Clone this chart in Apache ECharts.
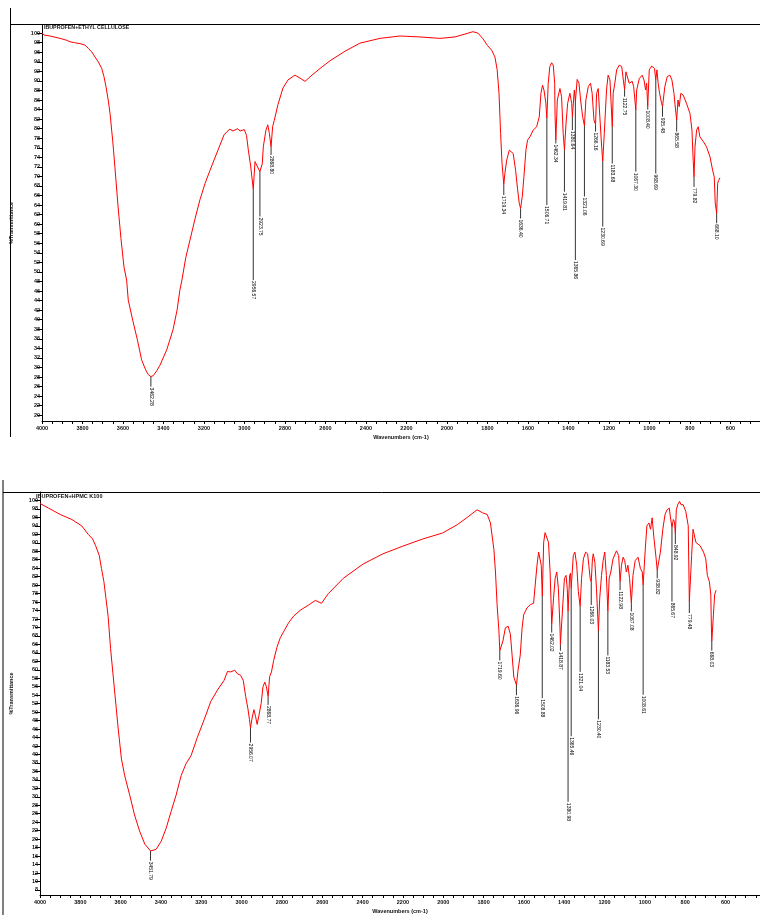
<!DOCTYPE html>
<html lang="en">
<head>
<meta charset="UTF-8">
<title>IR spectra</title>
<script src="https://cdn.jsdelivr.net/npm/echarts/dist/echarts.min.js"></script>
<style>
  html, body { margin: 0; padding: 0; background: #fff; }
  #chart { width: 760px; height: 915px; }
</style>
</head>
<body>
<div id="chart"></div>
<script>
// ---- data: ibuprofen + ethyl cellulose (top) ----
var topWn = [4000, 3990, 3960, 3911, 3878, 3862, 3840, 3812, 3788, 3771, 3755, 3738, 3722, 3705, 3694, 3684, 3673, 3664, 3656, 3651,
  3640, 3625, 3610, 3595, 3582, 3574, 3552, 3529, 3508, 3488, 3475, 3462.28, 3450, 3432, 3417, 3384, 3353, 3333, 3319, 3309,
  3290, 3269, 3245, 3220, 3195, 3170, 3131, 3101, 3086, 3072, 3057, 3034, 3022, 3001, 2990, 2981, 2969, 2956.57, 2948, 2940,
  2923.75, 2912, 2907, 2894, 2885, 2877, 2868.80, 2861, 2853, 2835, 2810, 2785, 2751, 2726, 2701, 2667, 2627, 2578, 2504, 2430,
  2331, 2232, 2133, 2035, 1961, 1911, 1872, 1847, 1822, 1800, 1779, 1763, 1752, 1743, 1735, 1728, 1719.34, 1714, 1705, 1692,
  1684, 1673, 1661, 1651, 1643, 1636.40, 1628, 1620, 1610, 1602, 1590, 1574, 1557, 1544, 1536, 1528, 1521, 1512, 1506.71, 1500,
  1492, 1483, 1475, 1468, 1466, 1462.34, 1455, 1442, 1434, 1426, 1419.81, 1412, 1404, 1393, 1384, 1380.64, 1371, 1365.86, 1357, 1348,
  1340, 1330, 1321.06, 1314, 1302, 1291, 1283, 1274, 1266.16, 1261, 1253, 1245, 1236, 1230.69, 1223, 1212, 1204, 1195, 1183.68, 1179,
  1171, 1162, 1149, 1137, 1129, 1122.75, 1116, 1108, 1100, 1091, 1085, 1078, 1067.30, 1063, 1050, 1036, 1027, 1019, 1014, 1008.40,
  1001, 989, 981, 975, 968.69, 963, 957, 950, 940, 935.48, 924, 912, 899, 889, 879, 871, 865.58, 859, 853, 845,
  833, 817, 800, 790, 784, 779.82, 775, 767, 759, 751, 734, 718, 701, 688, 680, 675, 668.10, 663, 658, 652];
var topT = [100.0, 99.6, 99.4, 98.9, 98.5, 98.2, 98.0, 97.8, 97.5, 96.8, 96.1, 95.0, 94.0, 92.6, 90.9, 88.8, 86.0, 83.2, 79.7, 77.6,
  72.0, 64.0, 57.0, 51.0, 48.3, 44.1, 39.9, 35.8, 31.6, 29.5, 28.5, 28.1, 28.3, 29.4, 30.5, 33.7, 37.9, 42.0, 46.2, 48.3,
  53.0, 56.7, 61.0, 65.1, 68.5, 71.3, 75.5, 78.7, 79.4, 79.9, 79.5, 80.0, 79.5, 79.8, 78.6, 75.5, 72.0, 67.3, 73.1, 73.4,
  71.0, 72.7, 76.2, 79.7, 80.8, 79.0, 76.2, 80.4, 81.7, 85.0, 88.5, 90.2, 91.2, 90.6, 89.9, 91.2, 92.6, 94.2, 96.2, 97.9,
  98.9, 99.4, 99.2, 98.9, 99.2, 99.8, 100.3, 100.0, 98.8, 97.4, 96.4, 95.0, 92.3, 87.4, 79.0, 72.7, 68.3, 70.6, 73.4, 75.5,
  75.8, 74.8, 71.3, 67.2, 64.4, 63.3, 65.8, 69.9, 75.5, 77.6, 78.3, 79.7, 80.4, 82.5, 87.4, 89.1, 88.1, 85.5, 82.2, 89.5,
  93.0, 93.8, 93.3, 89.5, 82.5, 77.6, 86.0, 88.4, 86.7, 79.0, 75.5, 81.1, 85.3, 87.4, 85.3, 82.5, 88.1, 85.6, 90.3, 89.5,
  86.0, 82.5, 80.6, 86.0, 88.8, 89.5, 87.4, 81.8, 80.9, 87.4, 88.4, 82.5, 76.2, 73.2, 79.0, 88.1, 91.2, 90.2, 80.4, 87.4,
  89.5, 92.3, 93.3, 93.0, 90.2, 88.2, 91.9, 91.6, 89.5, 89.5, 89.9, 88.8, 83.9, 88.1, 90.5, 91.2, 90.2, 88.1, 89.5, 84.6,
  92.3, 93.1, 93.0, 92.6, 90.2, 92.3, 89.5, 87.4, 85.3, 84.6, 88.8, 90.9, 91.2, 90.2, 87.4, 83.9, 81.8, 86.0, 84.6, 87.4,
  87.0, 85.3, 83.2, 79.7, 73.4, 69.9, 76.2, 79.7, 80.4, 78.3, 77.3, 76.2, 74.1, 71.3, 69.9, 64.4, 62.3, 68.6, 69.2, 69.7];

// labelled peaks: wavenumber, %T at the peak, %T where the leader ends
var topPeakWn = [3462.28, 2956.57, 2923.75, 2868.80, 1719.34, 1636.40, 1506.71, 1462.34, 1419.81, 1380.64, 1365.86, 1321.06,
  1266.16, 1230.69, 1183.68, 1122.75, 1067.30, 1008.40, 968.69, 935.48, 865.58, 779.82, 668.10];
var topPeakT = [28.1, 67.3, 71.0, 76.2, 68.3, 63.3, 82.2, 77.6, 75.5, 82.5, 85.6, 80.6,
  80.9, 73.2, 80.4, 88.2, 83.9, 84.6, 90.2, 84.6, 81.8, 69.9, 62.3];
var topPeakEnd = [26.0, 48.3, 61.6, 74.5, 66.1, 61.2, 64.0, 76.9, 66.8, 79.7, 52.5, 65.8,
  79.4, 59.5, 72.7, 86.7, 71.0, 84.0, 70.6, 82.5, 79.4, 67.8, 60.2];

// ---- data: ibuprofen + HPMC K100 (bottom) ----
var botWn = [4000, 3958, 3900, 3842, 3793, 3761, 3739, 3724, 3706, 3695, 3683, 3673, 3667, 3662, 3650, 3630, 3612, 3596, 3580, 3555,
  3531, 3506, 3480, 3451.79, 3424, 3399, 3374, 3350, 3325, 3300, 3276, 3251, 3220, 3186, 3153, 3120, 3087, 3070, 3054, 3034,
  3022, 3005, 2992, 2980, 2969, 2961, 2956.07, 2948, 2939, 2931, 2923, 2915, 2903, 2894, 2885, 2877, 2868.77, 2861, 2852, 2841,
  2825, 2808, 2767, 2742, 2708, 2668, 2634, 2604, 2570, 2496, 2397, 2299, 2201, 2102, 2004, 1930, 1881, 1832, 1806, 1782,
  1766, 1749, 1741, 1733, 1724, 1719.60, 1704, 1692, 1678, 1667, 1659, 1650, 1636.96, 1629, 1618, 1609, 1601, 1585, 1568, 1552,
  1544, 1535, 1527, 1519, 1514, 1508.88, 1502, 1495, 1486, 1478, 1470, 1465, 1462.02, 1453, 1445, 1437, 1429, 1421, 1418.87, 1407,
  1399, 1391, 1385, 1380.98, 1373, 1369, 1365.46, 1355, 1347, 1338, 1330, 1321.04, 1314, 1305, 1294, 1284, 1278, 1271, 1266.03, 1260,
  1256, 1248, 1240, 1230.40, 1224, 1215, 1207, 1199, 1191, 1183.53, 1177, 1169, 1158, 1141, 1130, 1122.98, 1116, 1108, 1100, 1092,
  1084, 1076, 1067.08, 1059, 1048, 1034, 1022, 1013, 1008.61, 998, 990, 980, 972, 964, 956, 944, 938.82, 923, 911, 900,
  890, 879, 874, 865.67, 859, 853, 848.92, 844, 837, 828, 821, 810, 797, 785, 779.48, 768, 761, 747, 739, 726,
  709, 698, 690, 680, 673, 670, 668.03, 660, 654, 647];
var botT = [99.3, 98.2, 96.7, 95.5, 94.0, 92.0, 90.9, 89.3, 87.0, 83.9, 80.8, 76.9, 74.6, 72.6, 65.0, 55.0, 46.0, 38.9, 35.0, 30.4,
  25.7, 21.9, 18.8, 17.2, 17.6, 19.5, 22.6, 26.5, 30.4, 35.0, 37.8, 39.7, 44.0, 48.2, 52.5, 55.2, 57.5, 59.6, 59.5, 59.9,
  59.1, 58.7, 57.5, 53.7, 50.9, 48.2, 46.3, 48.6, 50.6, 49.0, 47.1, 49.0, 52.1, 56.0, 57.1, 56.0, 53.7, 58.4, 59.5, 62.2,
  65.3, 67.6, 71.1, 72.7, 74.1, 75.3, 76.4, 75.7, 78.0, 81.6, 85.0, 87.4, 89.2, 90.9, 92.3, 94.3, 96.0, 97.8, 97.1, 96.7,
  94.7, 88.5, 83.1, 75.4, 69.2, 64.5, 66.8, 69.9, 70.3, 68.4, 63.7, 58.3, 56.4, 59.9, 63.5, 69.9, 73.0, 74.6, 75.4, 75.7,
  80.0, 84.7, 87.8, 88.1, 84.7, 77.4, 90.1, 92.4, 92.4, 90.1, 83.1, 75.4, 70.7, 76.9, 81.6, 83.1, 79.2, 69.9, 66.0, 75.4,
  81.6, 82.3, 79.2, 73.8, 82.3, 82.8, 79.2, 87.0, 87.8, 84.7, 78.5, 75.0, 81.6, 86.2, 87.8, 87.4, 84.7, 81.5, 80.8, 86.2,
  87.4, 85.4, 79.2, 69.2, 76.9, 82.3, 85.8, 87.8, 82.3, 73.8, 81.6, 83.1, 86.2, 88.1, 87.0, 80.8, 84.7, 86.6, 85.8, 83.1,
  84.7, 81.6, 75.7, 82.3, 85.8, 86.6, 83.9, 83.1, 80.0, 88.5, 94.0, 94.7, 93.2, 95.9, 91.6, 86.2, 83.5, 87.8, 93.2, 96.7,
  97.8, 98.2, 96.3, 93.6, 95.5, 95.0, 92.0, 97.8, 99.0, 99.8, 99.0, 99.0, 97.4, 94.0, 76.1, 87.0, 93.2, 90.1, 90.5, 89.3,
  87.8, 86.2, 82.3, 80.8, 77.7, 69.9, 66.8, 73.0, 77.7, 78.8];

var botPeakWn = [3451.79, 2956.07, 2868.77, 1719.60, 1636.96, 1508.88, 1462.02, 1418.87, 1380.98, 1365.46, 1321.04,
  1266.03, 1230.40, 1183.53, 1122.98, 1067.08, 1008.61, 938.82, 865.67, 848.92, 779.48, 668.03];
var botPeakT = [17.2, 46.3, 53.7, 64.5, 56.4, 77.4, 70.7, 66.0, 73.8, 79.2, 75.0,
  80.8, 69.2, 73.8, 80.8, 75.7, 80.0, 83.5, 93.6, 92.0, 76.1, 66.8];
var botPeakEnd = [14.9, 42.8, 51.7, 62.2, 54.0, 53.3, 68.8, 64.5, 28.8, 44.3, 59.5,
  75.3, 48.3, 63.4, 78.8, 73.8, 54.1, 81.6, 76.1, 89.7, 73.4, 64.5];

// tick labels
var xLabels = [4000, 3800, 3600, 3400, 3200, 3000, 2800, 2600, 2400, 2200, 2000, 1800, 1600, 1400, 1200, 1000, 800, 600];
var yLabelsTop = [20, 22, 24, 26, 28, 30, 32, 34, 36, 38, 40, 42, 44, 46, 48, 50, 52, 54, 56, 58, 60,
  62, 64, 66, 68, 70, 72, 74, 76, 78, 80, 82, 84, 86, 88, 90, 92, 94, 96, 98, 100];
var yLabelsBot = [8, 10, 12, 14, 16, 18, 20, 22, 24, 26, 28, 30, 32, 34, 36, 38, 40, 42, 44, 46, 48, 50, 52, 54,
  56, 58, 60, 62, 64, 66, 68, 70, 72, 74, 76, 78, 80, 82, 84, 86, 88, 90, 92, 94, 96, 98, 100];

function zip(a, b) {
  var out = [];
  for (var i = 0; i < a.length; i++) out.push([a[i], b[i]]);
  return out;
}
function zip3(a, b, c) {
  var out = [];
  for (var i = 0; i < a.length; i++) out.push([a[i], b[i], c[i]]);
  return out;
}
function steps(from, to, step) {
  var out = [];
  for (var v = from; v <= to + 1e-6; v += step) out.push(Math.round(v * 10) / 10);
  return out;
}

var FONT = 'Liberation Sans';
var tickFont = { fontSize: 5.5, color: '#111', fontFamily: FONT, fontWeight: 'bold' };
function plain(v) { return String(v); }

function xAxisFor(grid, min) {
  return {
    type: 'value', gridIndex: grid, inverse: true, min: min, max: 4000,
    axisLine: { show: true, lineStyle: { color: '#000', width: 1 } },
    axisTick: { show: true, inside: false, length: 3, customValues: steps(450, 4000, 50), lineStyle: { color: '#000' } },
    axisLabel: Object.assign({ customValues: xLabels, margin: 4, formatter: plain }, tickFont),
    splitLine: { show: false },
    name: 'Wavenumbers (cm-1)', nameLocation: 'middle', nameGap: 13,
    nameTextStyle: { fontSize: 5.5, fontFamily: FONT, fontWeight: 'bold', color: '#111' }
  };
}
function yAxisFor(grid, min, max, labels, gap) {
  return {
    type: 'value', gridIndex: grid, min: min, max: max,
    axisLine: { show: true, lineStyle: { color: '#000', width: 1 } },
    axisTick: { show: true, length: 5, customValues: labels, lineStyle: { color: '#000' } },
    axisLabel: Object.assign({ customValues: labels, margin: 2, formatter: plain }, tickFont),
    splitLine: { show: false },
    name: '%Transmittance', nameLocation: 'middle', nameGap: gap, nameRotate: 90,
    nameTextStyle: { fontSize: 5.5, fontFamily: FONT, fontWeight: 'bold', color: '#111' }
  };
}
function yMinorFor(grid, min, max, from, to) {
  return {
    type: 'value', gridIndex: grid, min: min, max: max,
    axisLine: { show: false },
    axisTick: { show: true, length: 2.5, customValues: steps(from, to, 0.5), lineStyle: { color: '#000' } },
    axisLabel: { show: false },
    splitLine: { show: false }
  };
}

function peakItem(params, api) {
  var wn = api.value(0);
  var a = api.coord([wn, api.value(1)]);
  var b = api.coord([wn, api.value(2)]);
  return {
    type: 'group',
    children: [
      { type: 'line', shape: { x1: a[0], y1: a[1], x2: b[0], y2: b[1] },
        style: { stroke: '#333', lineWidth: 1 } },
      { type: 'text', x: b[0], y: b[1] + 1, rotation: -Math.PI / 2,
        style: { text: wn.toFixed(2), fontSize: 5, fontFamily: FONT, fill: '#000',
          align: 'left', verticalAlign: 'middle' } }
    ]
  };
}

var chart = echarts.init(document.getElementById('chart'), null, { renderer: 'canvas' });

var option = {
  animation: false,
  backgroundColor: '#fff',
  grid: [
    { left: 42, top: 25, width: 718, height: 396 },
    { left: 35, top: 492, width: 725, height: 409 }
  ],
  xAxis: [xAxisFor(0, 454), xAxisFor(1, 429)],
  yAxis: [
    yAxisFor(0, 18.8, 101.7, yLabelsTop, 28),
    yAxisFor(1, 6.8, 102, yLabelsBot, 26),
    yMinorFor(0, 18.8, 101.7, 19, 101.5),
    yMinorFor(1, 6.8, 102, 7, 101.5)
  ],
  graphic: [
    // frames around the two panels
    { type: 'line', shape: { x1: 10.5, y1: 8, x2: 10.5, y2: 437 }, style: { stroke: '#000', lineWidth: 1 } },
    { type: 'line', shape: { x1: 10, y1: 24.5, x2: 760, y2: 24.5 }, style: { stroke: '#000', lineWidth: 1 } },
    { type: 'line', shape: { x1: 3, y1: 480, x2: 3, y2: 915 }, style: { stroke: '#000', lineWidth: 1 } },
    { type: 'line', shape: { x1: 3, y1: 492.5, x2: 760, y2: 492.5 }, style: { stroke: '#000', lineWidth: 1 } },
    { type: 'text', left: 44, top: 25.5,
      style: { text: 'IBUPROFEN+ETHYL CELLULOSE', fontSize: 5.3, fontWeight: 'bold', fontFamily: FONT, fill: '#111' } },
    { type: 'text', left: 36, top: 493.5,
      style: { text: 'IBUPROFEN+HPMC K100', fontSize: 5.5, fontWeight: 'bold', fontFamily: FONT, fill: '#111' } }
  ],
  series: [
    { type: 'line', xAxisIndex: 0, yAxisIndex: 0, data: zip(topWn, topT), showSymbol: false,
      lineStyle: { color: '#ff0000', width: 1 }, silent: true },
    { type: 'line', xAxisIndex: 1, yAxisIndex: 1, data: zip(botWn, botT), showSymbol: false,
      lineStyle: { color: '#ff0000', width: 1 }, silent: true },
    { type: 'custom', xAxisIndex: 0, yAxisIndex: 0, data: zip3(topPeakWn, topPeakT, topPeakEnd),
      renderItem: peakItem, clip: false, silent: true },
    { type: 'custom', xAxisIndex: 1, yAxisIndex: 1, data: zip3(botPeakWn, botPeakT, botPeakEnd),
      renderItem: peakItem, clip: false, silent: true }
  ]
};
chart.setOption(option);
</script>
</body>
</html>
